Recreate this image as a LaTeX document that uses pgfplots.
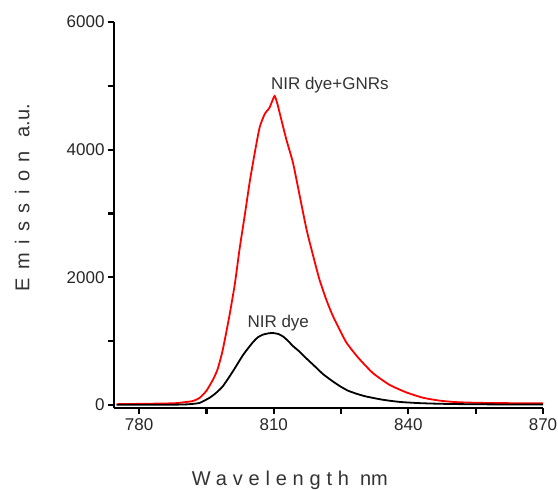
\documentclass[border=0pt]{standalone}
\usepackage{fontspec}
\setmainfont{Liberation Sans}
\usepackage{pgfplots}
\pgfplotsset{compat=1.18}
\usetikzlibrary{calc}

% emission spectra
\pgfplotstableread{
x y
775 10
780 15
785 20
788 25
790 40
792 60
793.5 110
795 220
796.5 400
797.5 560
798.6 850
800 1350
801.3 1880
802.4 2450
803.6 3000
804.7 3520
806.0 4040
806.9 4360
808.0 4560
809.0 4650
809.6 4750
810.2 4840
810.8 4720
811.3 4580
812.8 4160
814.3 3790
815.8 3270
817.3 2750
818.8 2330
820.2 1960
821.7 1650
823.0 1420
824.3 1230
826.2 975
828.8 740
832.1 497
835.8 313
839.6 193
843.3 110
847.0 65
850.7 42
855 32
860 27
865 25
870 22
}\dyegnr

\pgfplotstableread{
x y
775 0
785 0
790 5
792 15
793.5 30
795.7 110
797.2 190
798.7 295
800.9 525
803.2 785
805.4 985
806.5 1060
807.6 1100
808.8 1120
809.8 1125
811 1110
812.1 1070
813.2 1000
814.3 920
815.8 830
817.0 745
819.2 600
821 480
823.0 375
824.8 290
826.6 220
828.6 170
830.6 130
834.4 78
838.1 45
842 28
845 20
850 12
860 6
870 5
}\dye

\begin{document}
\begin{tikzpicture}[font=\fontsize{17}{20}\selectfont]
\begin{axis}[
    name=ax,
    width=429pt, height=386pt, scale only axis,
    xmin=774.4, xmax=870, ymin=-50, ymax=6000,
    axis x line*=bottom, axis y line*=left,
    axis line style={line width=2.6pt, black},
    xtick={780,810,840,870}, minor xtick={795,825,855},
    ytick={0,2000,4000,6000}, minor ytick={1000,3000,5000},
    tick align=outside, major tick length=6pt, minor tick length=6pt,
    tick style={black, line width=2.2pt},
    scaled ticks=false,
    /pgf/number format/assume math mode=true,
    /pgf/number format/set thousands separator={},
    ticklabel style={text=black!85},
    xticklabel style={yshift=-1pt},
    xlabel={{\addfontfeature{LetterSpace=29}Wavelength}\hspace{11pt}nm},
    ylabel={{\addfontfeature{LetterSpace=42}Emission}\hspace{14pt}a.u.},
    every axis x label/.style={at={(axis description cs:0.41,-0.1865)}, anchor=center, font=\fontsize{20}{22}\selectfont, text=black!80},
    every axis y label/.style={at={(axis description cs:-0.214,0.545)}, anchor=center, rotate=90, font=\fontsize{20}{22}\selectfont, text=black!80},
]
\addplot[red, line width=1.8pt, smooth, tension=0.35] table[x=x, y=y] {\dyegnr};
\addplot[black, line width=1.8pt, smooth, tension=0.35] table[x=x, y=y] {\dye};
\node[text=black!80] at (axis cs:822.5,5016) {NIR dye+GNRs};
\node[text=black!80] at (axis cs:811,1285) {NIR dye};
\end{axis}
\pgfresetboundingbox
\path[use as bounding box] ($(ax.south west)+(-114pt,-82pt)$) rectangle ($(ax.north east)+(15pt,22pt)$);
\end{tikzpicture}
\end{document}
